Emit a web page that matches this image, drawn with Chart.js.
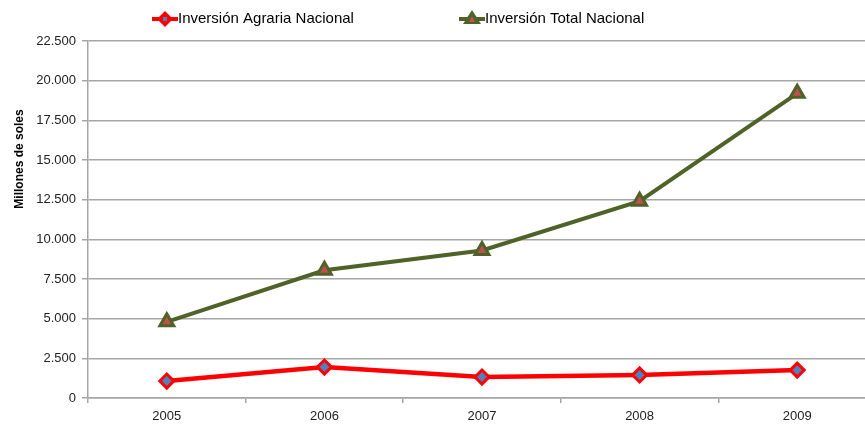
<!DOCTYPE html>
<html>
<head>
<meta charset="utf-8">
<script src="https://cdn.jsdelivr.net/npm/chart.js@4.4.1/dist/chart.umd.min.js"></script>
<style>
  html, body { margin: 0; padding: 0; background: #fff; overflow: hidden; width: 865px; height: 431px; }
  #wrap { width: 865px; height: 431px; overflow: hidden; position: relative; }
  #chart { position: absolute; left: 0; top: 0; }
</style>
</head>
<body>
<div id="wrap"><canvas id="chart" width="876" height="431"></canvas></div>
<script>
const years = ["2005", "2006", "2007", "2008", "2009"];
const agraria = [1070, 1950, 1320, 1450, 1760];
const total = [4800, 8050, 9300, 12400, 19200];
const yTicksMax = 22500;
const yStep = 2500;
const yTitle = "Millones de soles";

const RED = "#ff0000";
const OLIVE = "#4f6228";
const GRID = "#a6a6a6";
const FONT = "Liberation Sans";

function drawIcon(ctx, kind, x, y) {
  // line with a marker in the middle, as in the spreadsheet legend
  ctx.save();
  ctx.lineWidth = 4;
  ctx.strokeStyle = kind === "red" ? RED : OLIVE;
  ctx.beginPath();
  ctx.moveTo(x, y);
  ctx.lineTo(x + 26, y);
  ctx.stroke();
  const cx = x + 13;
  if (kind === "red") {
    ctx.fillStyle = RED;
    ctx.beginPath();
    ctx.moveTo(cx, y - 8); ctx.lineTo(cx + 8, y); ctx.lineTo(cx, y + 8); ctx.lineTo(cx - 8, y);
    ctx.closePath();
    ctx.fill();
    ctx.fillStyle = "#4f81bd";
    ctx.fillRect(cx - 2, y - 2, 4, 4);
  } else {
    ctx.fillStyle = OLIVE;
    ctx.beginPath();
    ctx.moveTo(cx, y - 9); ctx.lineTo(cx + 9, y + 5); ctx.lineTo(cx - 9, y + 5);
    ctx.closePath();
    ctx.fill();
    ctx.fillStyle = "#c0504d";
    ctx.beginPath();
    ctx.moveTo(cx, y - 3); ctx.lineTo(cx + 3, y + 3); ctx.lineTo(cx - 3, y + 3);
    ctx.closePath();
    ctx.fill();
  }
  ctx.restore();
}

const legendPlugin = {
  id: "sheetLegend",
  afterDraw(chart) {
    const ctx = chart.ctx;
    const starts = [152, 459];
    ctx.save();
    ctx.font = "15px " + FONT;
    ctx.fillStyle = "#000";
    ctx.textBaseline = "middle";
    chart.data.datasets.forEach((ds, i) => {
      drawIcon(ctx, i === 0 ? "red" : "green", starts[i], 19);
      ctx.fillText(ds.label, starts[i] + 26, 19);
    });
    ctx.restore();
  },
};

const yTitlePlugin = {
  id: "yTitle",
  afterDraw(chart) {
    const ctx = chart.ctx;
    ctx.save();
    ctx.translate(20, 159);
    ctx.rotate(-Math.PI / 2);
    ctx.font = "bold 12px " + FONT;
    ctx.fillStyle = "#000";
    ctx.textAlign = "center";
    ctx.textBaseline = "middle";
    ctx.fillText(yTitle, 0, 0);
    ctx.restore();
  },
};

// the original plot runs a little past the right edge of the picture
const stretchX = {
  id: "stretchX",
  afterLayout(chart) {
    const s = chart.scales.x;
    s.right += 11;
    s.width += 11;
    s.configure();
  },
};

const fmt = (v) => v === 0 ? "0" : v.toLocaleString("de-DE");

new Chart(document.getElementById("chart"), {
  type: "line",
  data: {
    labels: years,
    datasets: [
      {
        label: "Inversión Agraria Nacional",
        data: agraria,
        borderColor: RED,
        borderWidth: 4.5,
        pointStyle: "rectRot",
        pointRadius: 7,
        pointBackgroundColor: "#4f81bd",
        pointBorderColor: RED,
        pointBorderWidth: 3,
        tension: 0,
      },
      {
        label: "Inversión Total Nacional",
        data: total,
        borderColor: OLIVE,
        borderWidth: 4,
        pointStyle: "triangle",
        pointRadius: 8,
        pointBackgroundColor: "#c0504d",
        pointBorderColor: OLIVE,
        pointBorderWidth: 3,
        tension: 0,
      },
    ],
  },
  options: {
    responsive: false,
    animation: false,
    layout: { padding: { left: 8, top: 41, right: 0, bottom: 0 } },
    plugins: {
      tooltip: { enabled: false },
      legend: { display: false },
    },
    scales: {
      x: {
        offset: true,
        grid: {
          offset: true,
          drawOnChartArea: false,
          drawTicks: true,
          tickLength: 5,
          color: GRID,
          lineWidth: 1.5,
        },
        border: { color: GRID, width: 1.5 },
        ticks: {
          color: "#222",
          padding: 6,
          font: { family: FONT, size: 13 },
          maxRotation: 0,
        },
        afterFit: (scale) => { scale.height = 33; },
      },
      y: {
        min: 0,
        max: yTicksMax,
        ticks: {
          stepSize: yStep,
          color: "#222",
          padding: 6,
          font: { family: FONT, size: 13 },
          callback: (v) => fmt(v),
        },
        grid: {
          color: GRID,
          lineWidth: 1.5,
          tickLength: 6,
        },
        border: { color: GRID, width: 1.5 },
        afterFit: (scale) => { scale.width = 80; },
      },
    },
  },
  plugins: [stretchX, legendPlugin, yTitlePlugin],
});
</script>
</body>
</html>
